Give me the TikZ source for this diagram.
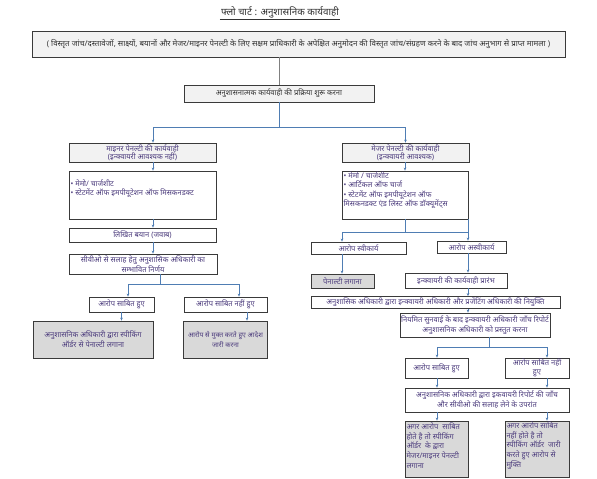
\documentclass[tikz,border=0pt]{standalone}
\usepackage{fontspec}
\newfontfamily\hin[Script=Devanagari]{Noto Sans}
\usetikzlibrary{arrows.meta}
\definecolor{conncol}{HTML}{4F7DB3}
\definecolor{txt}{HTML}{4B3B7C}
\definecolor{dtxt}{HTML}{333333}
\definecolor{lightfill}{HTML}{F2F2F2}
\definecolor{grayfill}{HTML}{D9D9D9}
\definecolor{bord}{HTML}{3A3A3A}
\begin{document}
\begin{tikzpicture}[x=1pt,y=-1pt,
 box/.style={draw=bord, line width=0.8pt, fill=white, inner sep=0.5pt, align=center,
   font=\hin\fontsize{7.5}{8.4}\selectfont, text=txt},
 lbox/.style={box, fill=lightfill},
 gbox/.style={box, fill=grayfill},
 cline/.style={draw=conncol, line width=0.7pt},
 arr/.style={cline, -{Stealth[length=3pt,width=2.6pt]}},
]
\useasboundingbox[fill=white] (0,0) rectangle (597,479);

% title
\node[font=\hin\fontsize{9.8}{11}\selectfont, text=dtxt, inner sep=1pt] (title) at (280,12) {फ्लो चार्ट : अनुशासनिक कार्यवाही};
\draw[dtxt, line width=0.6pt] (title.south west) -- (title.south east);

% top
\node[lbox, minimum width=533pt, minimum height=26pt, text=dtxt, font=\hin\fontsize{7.9}{9}\selectfont] (top) at (298.5,44) {( विस्तृत जांच/दस्तावेजों, साक्ष्यों, बयानों और मेजर/माइनर पेनल्टी के लिए सक्षम प्राधिकारी के अपेक्षित अनुमोदन की विस्तृत जांच/संग्रहण करने के बाद जांच अनुभाग से प्राप्त मामला )};
\node[lbox, minimum width=190pt, minimum height=17pt, text=dtxt] (b2) at (279,93.5) {अनुशासनात्मक कार्यवाही की प्रक्रिया शुरू करना};

% left branch
\node[lbox, minimum width=147pt, minimum height=19pt] (minor) at (142.5,152.5) {माइनर पेनल्टी की कार्यवाही\\(इन्क्वायरी आवश्यक नहीं)};
\node[box, inner sep=0pt] (memoL) at (142.5,195) {\parbox[c][48pt][t]{147pt}{\raggedright\leftskip=1.5pt\baselineskip=8.6pt\vspace{9pt}• मेमो/ चार्जशीट\\• स्टेटमेंट ऑफ इमपीयूटेशन ऑफ मिसकनडक्ट}};
\node[box, minimum width=147pt, minimum height=14pt] (likhit) at (142.5,235) {लिखित बयान (जवाब)};
\node[box, minimum width=148pt, minimum height=20pt] (cvo) at (143,264) {सीवीओ से सलाह हेतु अनुशासिक अधिकारी का\\सम्भावित निर्णय};
\node[box, minimum width=65pt, minimum height=15pt] (sabitL) at (121.5,304.5) {आरोप साबित हुए};
\node[box, minimum width=83pt, minimum height=15pt] (nahiL) at (225.5,304.5) {आरोप साबित नहीं हुए};
\node[gbox, minimum width=120pt, minimum height=37pt] (grayL1) at (93,339.5) {अनुशासनिक अधिकारी द्वारा स्पीकिंग\\ऑर्डर से पेनाल्टी लगाना};
\node[gbox, minimum width=84pt, minimum height=37pt, font=\hin\fontsize{6.8}{8.2}\selectfont] (grayL2) at (225.5,339.5) {आरोप से मुक्त करते हुए आदेश\\जारी करना};

% right branch
\node[lbox, minimum width=127pt, minimum height=19pt] (major) at (405.5,152.5) {मेजर पेनल्टी की कार्यवाही\\(इन्क्वायरी आवश्यक)};
\node[box, inner sep=0pt] (memoR) at (405,195) {\parbox[c][48pt][t]{126pt}{\raggedright\leftskip=1.5pt\baselineskip=9.2pt\vspace{1pt}• मेमो / चार्जशीट\\• आर्टिकल ऑफ चार्ज\\• स्टेटमेंट ऑफ इमपीयूटेशन ऑफ\\मिसकनडक्ट एंड लिस्ट ऑफ डॉक्यूमेंट्स}};
\node[box, minimum width=95pt, minimum height=12pt] (svikar) at (358.5,248) {आरोप स्वीकार्य};
\node[box, minimum width=69pt, minimum height=12pt] (asvikar) at (471.5,247) {आरोप अस्वीकार्य};
\node[gbox, minimum width=63pt, minimum height=14pt] (penalty) at (342.5,281) {पेनाल्टी लगाना};
\node[box, minimum width=102pt, minimum height=15pt] (inquiry) at (456,280.5) {इन्क्वायरी की कार्यवाही प्रारंभ};
\node[box, minimum width=249pt, minimum height=12pt] (appoint) at (435.5,302.5) {अनुशासिक अधिकारी द्वारा इन्क्वायरी अधिकारी और प्रजेंटिंग अधिकारी की नियुक्ति};
\node[box, minimum width=150pt, minimum height=24pt] (niyamit) at (475,325) {नियमित सुनवाई के बाद इन्क्वायरी अधिकारी जाँच रिपोर्ट\\अनुशासनिक अधिकारी को प्रस्तुत करना};
\node[box, minimum width=63pt, minimum height=20pt] (sabitR) at (436.5,368) {आरोप साबित हुए};
\node[box, minimum width=64pt, minimum height=20pt] (nahiR) at (537,368) {आरोप साबित नहीं\\हुए};
\node[box, minimum width=164pt, minimum height=24pt] (report) at (487,400) {अनुशासनिक अधिकारी द्वारा इकवायरी रिपोर्ट की जाँच\\और सीवीओ की सलाह लेने के उपरांत};
\node[gbox, inner sep=0pt] (grayR1) at (436.5,449) {\parbox[c][56pt][t]{63pt}{\raggedright\leftskip=1.5pt\baselineskip=9.6pt\vspace{2pt}अगर आरोप\ \ साबित\\होते है तो स्पीकिंग\\ऑर्डर\ \ के द्वारा\\मेजर/माइनर पेनल्टी\\लगाना}};
\node[gbox, inner sep=0pt] (grayR2) at (537,449) {\parbox[c][56pt][t]{64pt}{\raggedright\leftskip=1.5pt\baselineskip=9.6pt\vspace{1pt}अगर आरोप साबित\\नहीं होते है तो\\स्पीकिंग ऑर्डर\ \ जारी\\करते हुए आरोप से\\मुक्ति}};

% junction coordinates
\coordinate (j0) at (279,127);
\coordinate (jL) at (153,127);
\coordinate (jC) at (160,284);
\coordinate (jC1) at (128,284);
\coordinate (jC2) at (239,284);
\coordinate (xL2) at (247,0);
\coordinate (jM) at (405,232);
\coordinate (jM1) at (342,232);
\coordinate (jM2) at (468,232);
\coordinate (jN) at (489,347);
\coordinate (jN1) at (437,347);
\coordinate (jN2) at (547,347);

% connectors
\draw[cline, draw=gray] (top.south -| b2.north) -- (b2.north);
\draw[cline] (b2.south) -- (j0);
\draw[arr] (j0) -| (minor.north -| jL);
\draw[arr] (j0) -| (major.north);
\draw[arr] (minor.south -| jL) -- (memoL.north -| jL);
\draw[arr] (memoL.south -| jL) -- (likhit.north -| jL);
\draw[arr] (likhit.south -| jL) -- (cvo.north -| jL);
\draw[cline] (cvo.south -| jC) -- (jC);
\draw[cline] (jC1) -- (jC2);
\draw[arr] (jC1) -- (sabitL.north -| jC1);
\draw[arr] (jC2) -- (nahiL.north -| jC2);
\draw[arr] (sabitL.south) -- (sabitL.south |- grayL1.north);
\draw[arr] (nahiL.south -| xL2) -- (grayL2.north -| xL2);

\draw[arr] (major.south -| jM) -- (memoR.north -| jM);
\draw[cline] (memoR.south -| jM) -- (jM);
\draw[cline] (memoR.south -| jM2) -- (jM2);
\draw[cline] (jM1) -- (jM2);
\draw[arr] (jM1) -- (svikar.north -| jM1);
\draw[arr] (jM2) -- (asvikar.north -| jM2);
\draw[arr] (svikar.south -| jM1) -- (penalty.north -| jM1);
\draw[arr] (asvikar.south -| jM2) -- (inquiry.north -| jM2);
\draw[arr] (inquiry.south -| jM2) -- (appoint.north -| jM2);
\draw[arr] (appoint.south -| jM2) -- (niyamit.north -| jM2);
\draw[cline] (niyamit.south -| jN) -- (jN);
\draw[cline] (jN1) -- (jN2);
\draw[arr] (jN1) -- (sabitR.north -| jN1);
\draw[arr] (jN2) -- (nahiR.north -| jN2);
\draw[arr] (sabitR.south -| jN1) -- (report.north -| jN1);
\draw[arr] (nahiR.south -| jN2) -- (report.north -| jN2);
\draw[arr] (report.south -| jN1) -- (grayR1.north -| jN1);
\draw[arr] (report.south -| jN2) -- (grayR2.north -| jN2);
\end{tikzpicture}
\end{document}
